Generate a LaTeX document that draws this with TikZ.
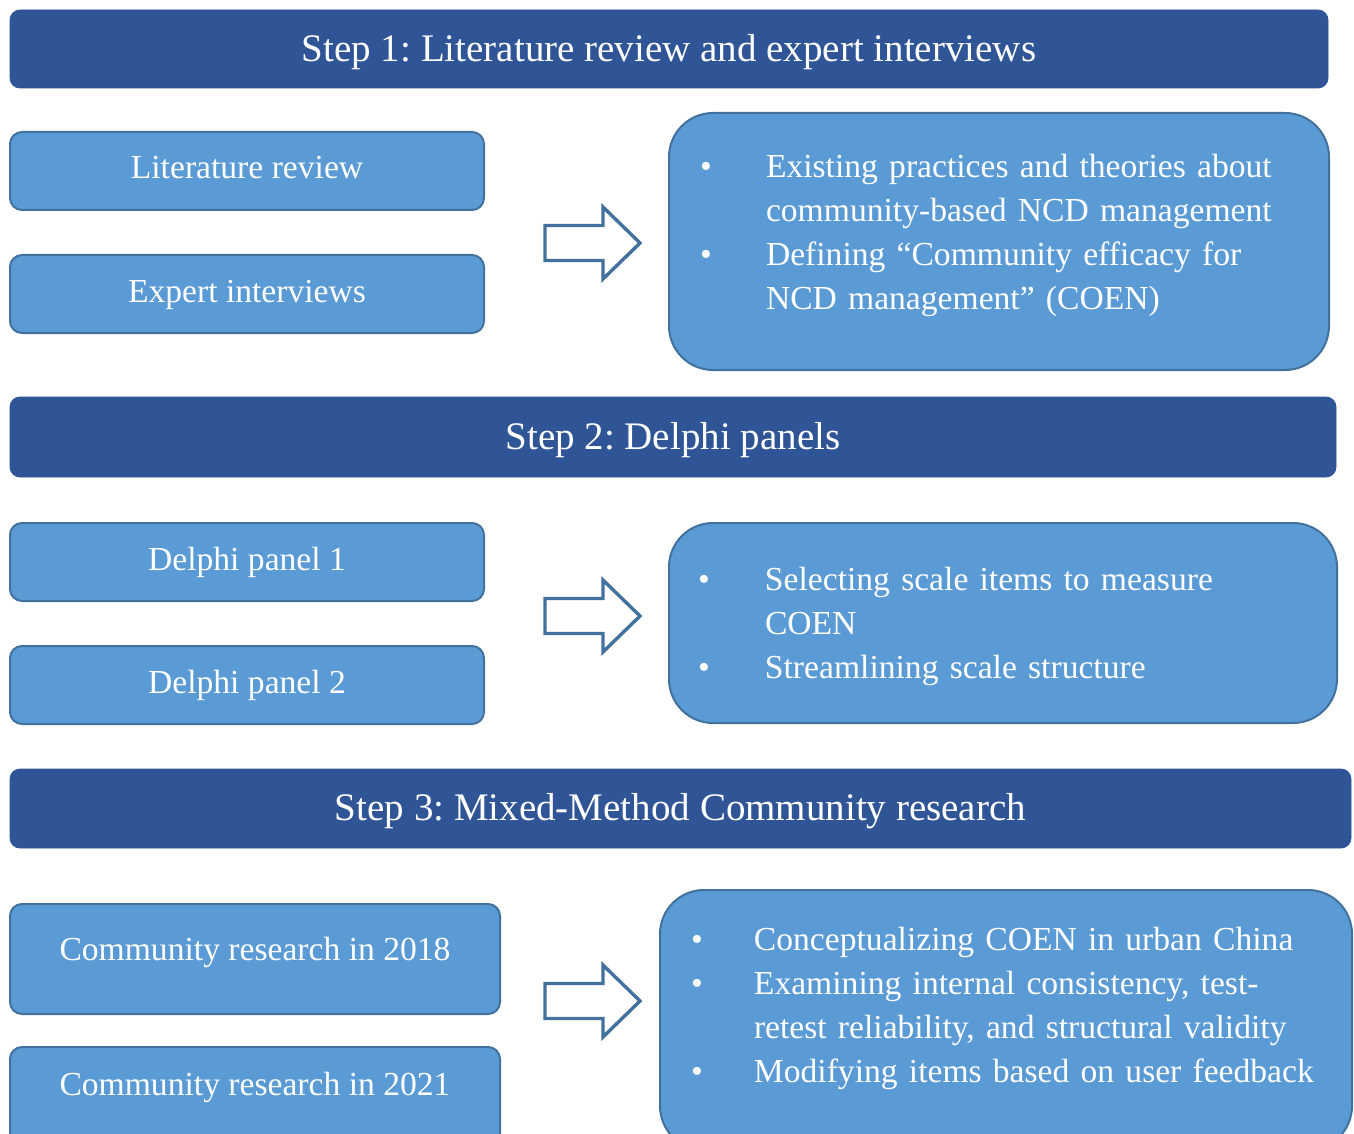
\documentclass[tikz,border=0pt]{standalone}
\usepackage{fontspec}
\setmainfont{Liberation Serif}
\usetikzlibrary{positioning}

\definecolor{hdrblue}{RGB}{47,85,151}
\definecolor{boxblue}{RGB}{91,155,213}
\definecolor{edgeblue}{RGB}{65,113,156}

\newcommand{\bodyfont}{\fontsize{16.8}{22}\selectfont}
\frenchspacing

\begin{document}
\begin{tikzpicture}[
  x=1pt, y=-1pt,
  header/.style={fill=hdrblue, draw=hdrblue, rounded corners=5pt, text=white, font=\fontsize{19.5}{23}\selectfont, inner sep=0pt, text depth=1.3pt},
  srcbox/.style={fill=boxblue, draw=edgeblue, line width=1pt, rounded corners=6pt, text=white, font=\bodyfont, inner sep=0pt, text height=11.5pt, text depth=3.5pt},
  outbox/.style={fill=boxblue, draw=edgeblue, line width=1pt, rounded corners=22pt, text=white, font=\bodyfont, align=left, inner sep=0pt},
  blockarrow/.style={draw=edgeblue, fill=white, line width=1.7pt, line join=miter}
]
\useasboundingbox (0,0) rectangle (677,567);

% step 1
\node[header, minimum width=659pt, minimum height=39pt] (step1) at (334.5,24.5) {Step 1: Literature review and expert interviews};
\node[srcbox, minimum width=237pt, minimum height=39pt] (lit) at (123.5,85.5) {Literature review};
\node[srcbox, minimum width=237pt, minimum height=39pt] (expert) at (123.5,147) {Expert interviews};
\node[outbox, minimum width=330pt, minimum height=128.5pt, text width=294pt, text depth=46pt] (out1) at (499.5,120.75) {%
  \begin{tabular}{@{\hspace{-2.5pt}}p{33pt}@{}l@{}}
  \textbullet & Existing practices and theories about\\
   & community-based NCD management\\
  \textbullet & Defining “Community efficacy for\\
   & NCD management” (COEN)
  \end{tabular}};

% step 2
\node[header, minimum width=663pt, minimum height=40pt] (step2) at (336.5,218.5) {Step 2: Delphi panels};
\node[srcbox, minimum width=237pt, minimum height=39pt] (delphi1) at (123.5,281) {Delphi panel 1};
\node[srcbox, minimum width=237pt, minimum height=39pt] (delphi2) at (123.5,342.5) {Delphi panel 2};
\node[outbox, minimum width=334pt, minimum height=100pt, text width=298pt, text depth=26pt] (out2) at (501.5,311.5) {%
  \begin{tabular}{@{\hspace{-3.5pt}}p{33.5pt}@{}l@{}}
  \textbullet & Selecting scale items to measure\\
   & COEN\\
  \textbullet & Streamlining scale structure
  \end{tabular}};

% step 3
\node[header, minimum width=670.5pt, minimum height=39.5pt] (step3) at (340.25,404.25) {Step 3: Mixed-Method Community research};
\node[srcbox, minimum width=245pt, minimum height=55pt, text depth=10pt] (com18) at (127.5,479.5) {Community research in 2018};
\node[srcbox, minimum width=245pt, minimum height=55pt, text depth=18pt] (com21) at (127.5,551) {Community research in 2021};
\node[outbox, minimum width=346pt, minimum height=130pt, text width=312pt, text depth=52pt] (out3) at (503,510) {%
  \begin{tabular}{@{\hspace{-1.5pt}}p{31.5pt}@{}l@{}}
  \textbullet & Conceptualizing COEN in urban China\\
  \textbullet & Examining internal consistency, test-\\
   & retest reliability, and structural validity\\
  \textbullet & Modifying items based on user feedback
  \end{tabular}};

% block arrows
\foreach \cy in {121.5,308,500.5}
  \draw[blockarrow] (272.5,\cy-8.75) -- (301.5,\cy-8.75) -- (301.5,\cy-18) -- (320,\cy)
    -- (301.5,\cy+18) -- (301.5,\cy+8.75) -- (272.5,\cy+8.75) -- cycle;
\end{tikzpicture}
\end{document}
